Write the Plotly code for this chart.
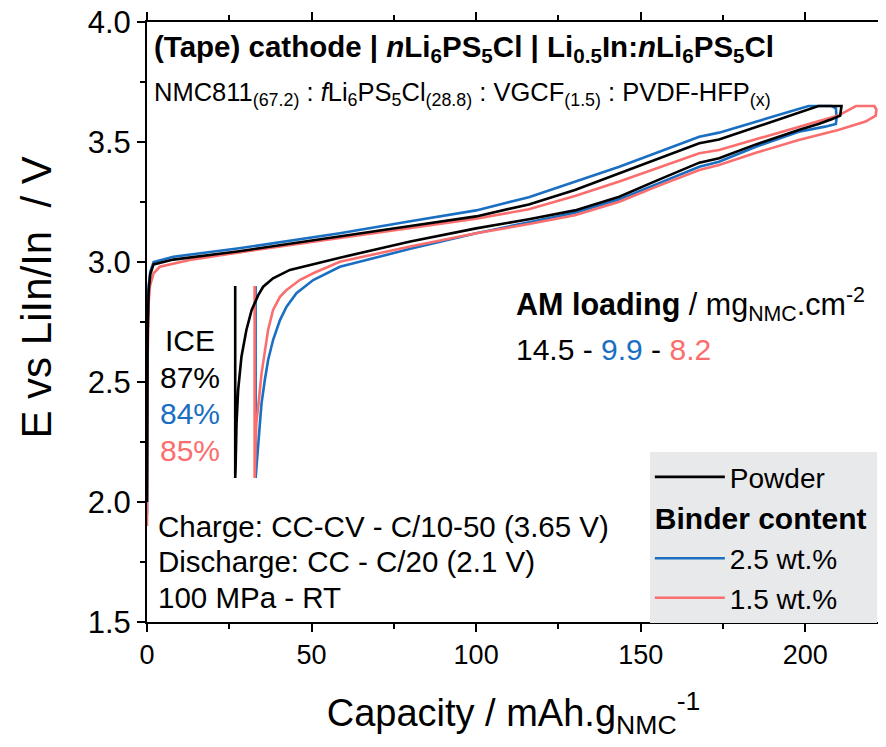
import plotly.graph_objects as go

# ---------------- data ----------------
# Powder (black): charge, then discharge (capacity runs back down), then relaxation
powder_charge_cap = [0, 0.2, 0.5, 1, 2, 8, 28, 58.6, 80, 100, 116, 130, 143.5, 167.8, 173.8, 190, 198, 204, 211]
powder_charge_v = [2.0, 2.7, 2.88, 2.95, 2.99, 3.01, 3.045, 3.105, 3.15, 3.19, 3.24, 3.30, 3.37, 3.495, 3.51, 3.585, 3.62, 3.65, 3.65]
powder_dis_cap = [211, 210.6, 208, 204, 198, 185, 173.8, 167.8, 155, 143.5, 130, 116, 100, 80, 58.6, 50, 43.4, 38.3, 35.3, 33.8,
                  31.8, 30.2, 28.7, 27.7, 27.2, 26.9, 26.8, 26.8]
powder_dis_v = [3.65, 3.61, 3.595, 3.575, 3.55, 3.49, 3.432, 3.414, 3.34, 3.272, 3.215, 3.178, 3.14, 3.085, 3.018, 2.99, 2.967, 2.932,
                2.897, 2.862, 2.80, 2.717, 2.605, 2.467, 2.328, 2.133, 2.1, 2.9]

# Binder 2.5 wt.% (blue)
b25_charge_cap = [0, 0.2, 0.5, 1, 2, 8, 28, 58.6, 80, 100, 116, 130, 143.5, 167.8, 173.8, 190, 198, 201, 208]
b25_charge_v = [1.95, 2.75, 2.9, 2.96, 3.0, 3.022, 3.057, 3.12, 3.17, 3.215, 3.27, 3.335, 3.397, 3.522, 3.539, 3.605, 3.64, 3.65, 3.65]
b25_dis_cap = [209.3, 209.5, 209.3, 206, 198, 185, 173.8, 167.8, 155, 143.5, 130, 116, 100, 80, 58.6, 50.5, 45.4, 42.4, 40.4,
               38.3, 36.8, 35.8, 34.8, 34.3, 33.6, 33.2, 33.0, 33.0]
b25_dis_v = [3.64, 3.6, 3.575, 3.564, 3.543, 3.48, 3.418, 3.397, 3.325, 3.261, 3.205, 3.165, 3.12, 3.055, 2.98, 2.925, 2.87, 2.814,
             2.758, 2.675, 2.592, 2.508, 2.411, 2.328, 2.203, 2.12, 2.1, 2.9]

# Binder 1.5 wt.% (pink)
b15_charge_cap = [0, 0.2, 0.5, 0.9, 2, 3.9, 13, 28, 58.6, 80, 100, 116, 130, 143.5, 167.8, 173.8, 198, 210, 215.4, 221]
b15_charge_v = [1.9, 2.6, 2.83, 2.9, 2.953, 2.98, 3.008, 3.04, 3.10, 3.14, 3.18, 3.22, 3.275, 3.335, 3.453, 3.467, 3.564, 3.61, 3.65, 3.65]
b15_dis_cap = [221.6, 221.4, 218.3, 210, 198, 185, 173.8, 167.8, 155, 143.5, 130, 116, 100, 80, 58.6, 50.5, 46.4, 42.4, 40.4,
               38.3, 36.8, 35.8, 34.8, 34.0, 33.2, 32.9, 32.7, 32.7]
b15_dis_v = [3.635, 3.61, 3.585, 3.55, 3.508, 3.455, 3.404, 3.383, 3.315, 3.251, 3.195, 3.158, 3.12, 3.065, 3.001, 2.953, 2.925,
             2.883, 2.855, 2.80, 2.717, 2.633, 2.536, 2.425, 2.328, 2.19, 2.1, 2.9]

x_ticks = [0, 50, 100, 150, 200]
y_ticks = [1.5, 2.0, 2.5, 3.0, 3.5, 4.0]

BLACK = "#000000"
BLUE = "#1a6fc2"
PINK = "#fb6e6e"
FONT = "Liberation Sans, Arial, sans-serif"

fig = go.Figure()

series = [
    ("2.5 wt.%", b25_charge_cap + b25_dis_cap, b25_charge_v + b25_dis_v, BLUE, 2, "binder"),
    ("1.5 wt.%", b15_charge_cap + b15_dis_cap, b15_charge_v + b15_dis_v, PINK, 3, "binder"),
    ("Powder", powder_charge_cap + powder_dis_cap, powder_charge_v + powder_dis_v, BLACK, 1, "powder"),
]
for name, xs, ys, col, rank, grp in series:
    kw = {}
    if grp == "binder":
        kw["legendgrouptitle"] = dict(text="<b>Binder content</b>", font=dict(size=30, color="black", family=FONT))
    fig.add_trace(go.Scatter(x=xs, y=ys, mode="lines", name=name,
                             line=dict(color=col, width=2.6),
                             legendrank=rank, legendgroup=grp, **kw))

axis_common = dict(showline=True, linecolor="black", linewidth=2, ticks="outside",
                   tickwidth=2, ticklen=8, tickcolor="black", automargin=False,
                   showgrid=False, zeroline=False, ticklabeloverflow="allow")

fig.update_xaxes(range=[0, 222.7], tickvals=x_ticks, ticktext=[str(v) for v in x_ticks],
                 tickfont=dict(size=27, family=FONT, color="black"), mirror="ticks",
                 title=dict(text="Capacity / mAh.g<sub>NMC</sub><sup>-1</sup>",
                            font=dict(size=38, family=FONT, color="black"), standoff=30),
                 minor=dict(dtick=25, ticks="outside", ticklen=5, tickwidth=2, tickcolor="black"),
                 **axis_common)
fig.update_yaxes(range=[1.5, 4.0], tickvals=y_ticks, ticktext=[f"{v:.1f}" for v in y_ticks],
                 tickfont=dict(size=31, family=FONT, color="black"), mirror=False,
                 minor=dict(dtick=0.25, ticks="outside", ticklen=5, tickwidth=2, tickcolor="black"),
                 **axis_common)

ann = []
def add(text, x, y, size, color="black", xanchor="left"):
    ann.append(dict(text=text, x=x, y=y, xref="x", yref="y", showarrow=False,
                    xanchor=xanchor, yanchor="middle", font=dict(size=size, color=color, family=FONT)))

# y axis title (placed as rotated text beside the axis)
ann.append(dict(text="E vs LiIn/In  / V", x=-0.152, y=2.85, xref="paper", yref="y", showarrow=False,
                textangle=-90, xanchor="center", yanchor="middle",
                font=dict(size=42, color="black", family=FONT)))

add("<b>(Tape) cathode | <i>n</i>Li<sub>6</sub>PS<sub>5</sub>Cl | Li<sub>0.5</sub>In:<i>n</i>Li<sub>6</sub>PS<sub>5</sub>Cl</b>", 1.5, 3.888, 29.5)
add("NMC811<sub>(67.2)</sub> : <i>f</i>Li<sub>6</sub>PS<sub>5</sub>Cl<sub>(28.8)</sub> : VGCF<sub>(1.5)</sub> : PVDF-HFP<sub>(x)</sub>", 1.5, 3.70, 25.5)
add("<b>AM loading</b> / mg<sub>NMC</sub>.cm<sup>-2</sup>", 111.5, 2.825, 30.5)
add("14.5 - <span style='color:%s'>9.9</span> - <span style='color:%s'>8.2</span>" % (BLUE, PINK), 111.5, 2.635, 30)
add("ICE", 13, 2.675, 30, xanchor="center")
add("87%", 13, 2.52, 30, xanchor="center")
add("84%", 13, 2.367, 30, BLUE, xanchor="center")
add("85%", 13, 2.213, 30, PINK, xanchor="center")
add("Charge: CC-CV - C/10-50 (3.65 V)", 2.6, 1.897, 29.5)
add("Discharge: CC - C/20 (2.1 V)", 2.6, 1.754, 29.5)
add("100 MPa - RT", 2.6, 1.604, 29.5)

fig.update_layout(
    width=878, height=739,
    margin=dict(l=139, r=6, t=14, b=125, autoexpand=False),
    plot_bgcolor="white", paper_bgcolor="white",
    font=dict(family=FONT, color="black"),
    annotations=ann,
    showlegend=True,
    legend=dict(x=0.686, y=0.283, xanchor="left", yanchor="top",
                bgcolor="#e8e9eb", borderwidth=0,
                font=dict(size=28, family=FONT, color="black"),
                tracegroupgap=0, itemwidth=70),
)

fig.write_html("out.html")
